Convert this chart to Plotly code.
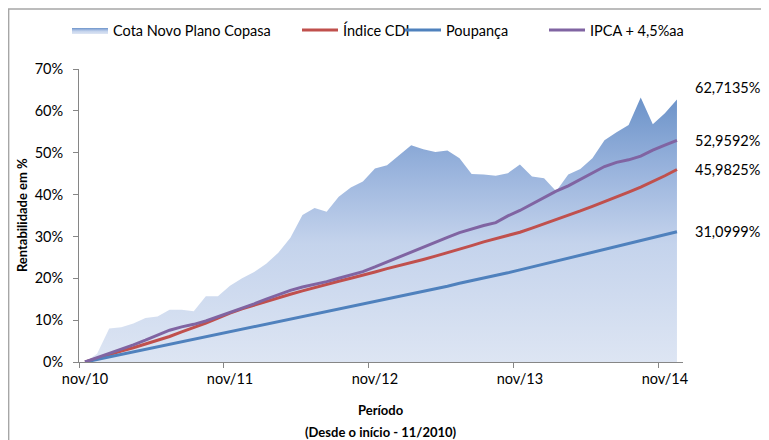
import plotly.graph_objects as go

months = list(range(50))  # nov/10 .. dez/14
tick_pos = [0, 12, 24, 36, 48]
tick_text = ["nov/10", "nov/11", "nov/12", "nov/13", "nov/14"]
boundary_ticks = [-0.5, 11.5, 23.5, 35.5, 47.5]
y_ticks = [0, 10, 20, 30, 40, 50, 60, 70]
y_ticktext = ["0%", "10%", "20%", "30%", "40%", "50%", "60%", "70%"]

cota = [0, 2.0, 8.0, 8.3, 9.2, 10.5, 10.9, 12.5, 12.5, 12.1, 15.7, 15.7, 18.2, 20.0,
        21.5, 23.5, 26.1, 29.7, 35.1, 36.8, 35.9, 39.5, 41.7, 43.1, 46.2, 47.0, 49.4,
        51.8, 50.8, 50.2, 50.5, 48.7, 44.9, 44.8, 44.5, 45.1, 47.2, 44.3, 43.9, 40.8,
        44.8, 46.1, 48.7, 53.0, 54.9, 56.6, 63.2, 56.8, 59.4, 62.7135]

cdi = [0, 0.9, 1.7, 2.6, 3.4, 4.3, 5.2, 6.1, 7.2, 8.2, 9.3, 10.5, 11.7, 12.7, 13.6,
       14.5, 15.4, 16.2, 17.0, 17.8, 18.6, 19.3, 20.0, 20.7, 21.5, 22.3, 23.0, 23.7,
       24.5, 25.3, 26.1, 26.9, 27.8, 28.7, 29.5, 30.3, 31.0, 32.0, 33.0, 34.0, 35.1,
       36.1, 37.2, 38.3, 39.5, 40.6, 41.8, 43.1, 44.5, 45.9825]

poupanca = [0, 0.6, 1.2, 1.8, 2.4, 3.0, 3.6, 4.2, 4.8, 5.4, 6.0, 6.6, 7.2, 7.8, 8.4,
            9.0, 9.6, 10.2, 10.8, 11.5, 12.1, 12.7, 13.3, 13.9, 14.5, 15.1, 15.7, 16.3,
            16.9, 17.5, 18.1, 18.8, 19.4, 20.0, 20.7, 21.3, 22.0, 22.7, 23.4, 24.1, 24.8,
            25.5, 26.2, 26.9, 27.6, 28.3, 29.0, 29.7, 30.4, 31.0999]

ipca = [0, 1.0, 2.0, 3.0, 4.1, 5.2, 6.4, 7.6, 8.4, 9.0, 9.8, 10.8, 11.9, 12.9, 13.9,
        15.0, 16.1, 17.1, 17.9, 18.5, 19.2, 20.0, 20.8, 21.6, 22.7, 23.9, 25.1, 26.3,
        27.5, 28.6, 29.8, 30.9, 31.8, 32.6, 33.3, 34.9, 36.2, 37.8, 39.4, 40.8, 42.1,
        43.7, 45.3, 46.7, 47.7, 48.3, 49.2, 50.6, 51.8, 52.9592]

end_labels = ["62,7135%", "52,9592%", "45,9825%", "31,0999%"]
end_values = [cota[-1], ipca[-1], cdi[-1], poupanca[-1]]
end_shifts = [12, 0, 0, 0]

FONT = "Lato"
AXIS_GREY = "#868686"
# the page body adds an 8px offset; the figure fills the rest of the 769x440 window
W, H = 761, 432

fig = go.Figure()
fig.add_trace(go.Scatter(
    x=months, y=cota, name="Cota Novo Plano Copasa", mode="lines", legend="legend",
    line=dict(width=0, color="#7D9FD0"), fill="tozeroy",
    fillcolor="#A9BFE3",
    fillgradient=dict(type="vertical",
                      colorscale=[[0, "#DDE5F3"], [0.45, "#C4D3EC"],
                                  [0.72, "#9AB4DD"], [1, "#6C93C9"]]),
    hoverinfo="skip"))
fig.add_trace(go.Scatter(x=months, y=cdi, name="Índice CDI", mode="lines", legend="legend2",
                         line=dict(color="#C0504D", width=3)))
fig.add_trace(go.Scatter(x=months, y=poupanca, name="Poupança", mode="lines", legend="legend3",
                         line=dict(color="#4F81BD", width=3)))
fig.add_trace(go.Scatter(x=months, y=ipca, name="IPCA + 4,5%aa", mode="lines", legend="legend4",
                         line=dict(color="#8064A2", width=3)))
# invisible trace to activate the overlay axis holding boundary tick marks
fig.add_trace(go.Scatter(x=[months[0]], y=[0], xaxis="x2", mode="markers",
                         marker=dict(opacity=0), showlegend=False, hoverinfo="skip"))

for txt, val, sh in zip(end_labels, end_values, end_shifts):
    fig.add_annotation(text=txt, xref="paper", yref="y", x=1.016, y=val, yshift=sh,
                       xanchor="left", yanchor="middle", showarrow=False,
                       font=dict(family=FONT, size=14.5, color="#000000"))

fig.add_annotation(text="<b>Período</b>", xref="paper", yref="paper", x=0.5, y=-0.164,
                   xanchor="center", yanchor="middle", showarrow=False,
                   font=dict(family=FONT, size=13, color="#000000"))
fig.add_annotation(text="<b>(Desde o início - 11/2010)</b>", xref="paper", yref="paper",
                   x=0.5, y=-0.239, xanchor="center", yanchor="middle", showarrow=False,
                   font=dict(family=FONT, size=13, color="#000000"))
fig.add_annotation(text="<b>Rentabilidade em %</b>", xref="paper", yref="paper",
                   x=-0.095, y=0.5, xanchor="center", yanchor="middle", textangle=-90,
                   showarrow=False, font=dict(family=FONT, size=13, color="#000000"))

fig.add_shape(type="rect", xref="paper", yref="paper", x0=-0.1165, x1=1.3, y0=-0.6, y1=1.2045,
              line=dict(color="#A6A6A6", width=1.5), fillcolor="rgba(0,0,0,0)", layer="below")

legend_text_starts = [113, 343, 446, 590]
leg_common = dict(orientation="h", xref="container", yref="container", xanchor="left",
                  yanchor="middle", y=1 - 22 / H, font=dict(family=FONT, size=14.5),
                  bgcolor="rgba(0,0,0,0)", itemwidth=36)
legends = {}
for k, ts in zip(["legend", "legend2", "legend3", "legend4"], legend_text_starts):
    legends[k] = dict(leg_common, x=(ts - 54) / W)

fig.update_layout(
    width=W, height=H,
    margin=dict(l=71, r=86, t=61, b=78, autoexpand=False),
    paper_bgcolor="white", plot_bgcolor="white",
    font=dict(family=FONT, size=14, color="#000000"),
    showlegend=True,
    xaxis=dict(range=[-0.5, 49.5], tickvals=tick_pos, ticktext=tick_text, ticks="",
               showgrid=False, zeroline=False, showline=True, linecolor=AXIS_GREY,
               linewidth=1, tickfont=dict(family=FONT, size=14.5), ticklabelstandoff=4,
               automargin=False),
    xaxis2=dict(range=[-0.5, 49.5], overlaying="x", tickvals=boundary_ticks, ticks="outside",
                ticklen=5, tickcolor=AXIS_GREY, showticklabels=False, showgrid=False,
                zeroline=False, showline=False, side="bottom", automargin=False),
    yaxis=dict(range=[0, 70], tickvals=y_ticks, ticktext=y_ticktext,
               ticks="outside", ticklen=5, tickcolor=AXIS_GREY, showgrid=False,
               zeroline=False, showline=True, linecolor=AXIS_GREY, linewidth=1,
               tickfont=dict(family=FONT, size=14.5), ticklabelstandoff=7,
               automargin=False),
    **legends,
)

fig.write_html("out.html")
